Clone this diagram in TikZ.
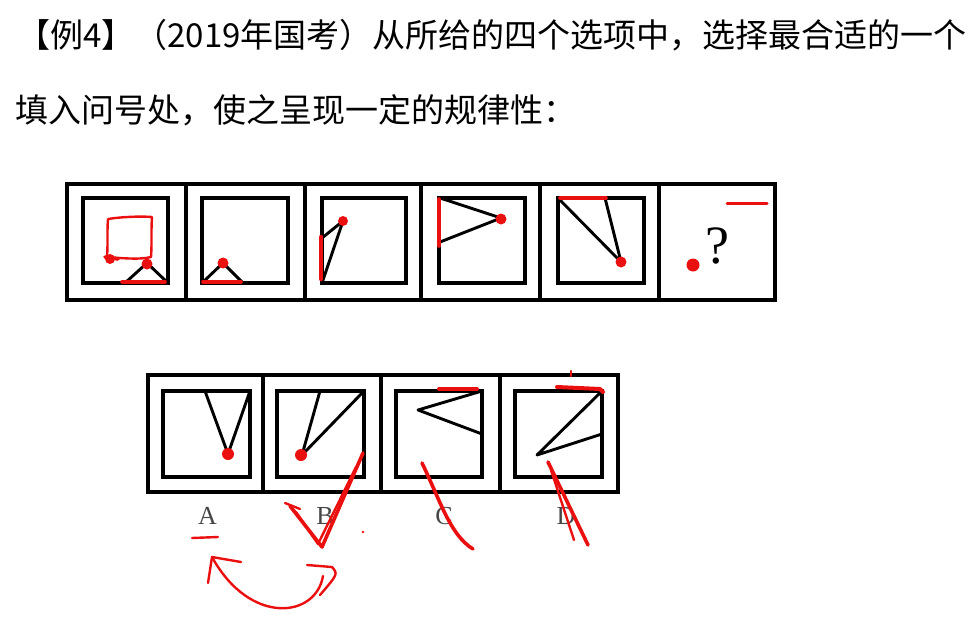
\documentclass[tikz,border=0pt]{standalone}
\usepackage{fontspec}
\newfontfamily\cjk{Noto Sans CJK SC}
\newfontfamily\tms{Liberation Serif}
\definecolor{mred}{RGB}{235,16,16}
\definecolor{lblgray}{RGB}{70,70,70}
\tikzset{
  frame/.style={line width=3.4pt, line join=miter},
  figline/.style={line width=2.9pt, line cap=round, line join=round},
  redmark/.style={mred, line width=3.6pt, line cap=round, line join=round},
  redthin/.style={mred, line width=2.4pt, line cap=round, line join=round},
  reddot/.style={fill=mred, draw=none},
  title/.style={anchor=west, inner sep=0pt, font=\cjk\fontsize{33}{38}\selectfont},
  optlabel/.style={inner sep=0pt, text=lblgray, font=\tms\fontsize{26}{30}\selectfont}
}
\begin{document}
\begin{tikzpicture}[x=1pt,y=-1pt]
\useasboundingbox (0,0) rectangle (971,626);
% title text
\node[title] (t1) at (17,35) {【例4】（2019年国考）从所给的四个选项中，选择最合适的一个};
\node[title] (t2) at (15,110) {填入问号处，使之呈现一定的规律性：};

% ---------- top row ----------
\draw[frame] (67,184) rectangle (775,300);
\foreach \x in {186,305,421,540,659} \draw[frame] (\x,184) -- (\x,300);
\draw[frame] (83,198) rectangle (168,283);
\draw[frame] (202,198) rectangle (288,283);
\draw[frame] (322,198) rectangle (406,283);
\draw[frame] (439,198) rectangle (525,283);
\draw[frame] (558,198) rectangle (644,283);

% cell 1
\draw[figline] (125,283) -- (147,263) -- (168,283);
\draw[redthin] (108,219) .. controls (120,217) and (140,216) .. (152,217)
  .. controls (151,230) and (152,245) .. (151,257)
  .. controls (140,260) and (120,258) .. (107,257)
  .. controls (108,245) and (107,230) .. (108,219);
\draw[redmark] (105,257) -- (118,259);
\fill[reddot] (110,259) circle (5);
\fill[reddot] (147,264) circle (5.5);
\draw[redmark] (122,282) -- (165,282);

% cell 2
\draw[figline] (202,283) -- (223,263) -- (243,283);
\draw[redmark] (203,282) -- (241,282);
\fill[reddot] (223,263) circle (5.5);

% cell 3
\draw[figline] (322,238) -- (343,221) -- (322,283);
\draw[mred, line width=4.5pt, line cap=round] (321,237) -- (321,279);
\fill[reddot] (343,221) circle (5);

% cell 4
\draw[figline] (440,198) -- (501,218) -- (440,242);
\draw[redmark] (439,199) -- (439,246);
\fill[reddot] (501,219) circle (5.5);

% cell 5
\draw[figline] (558,198) -- (621,262);
\draw[figline] (605,198) -- (621,262);
\draw[redmark] (560,198) -- (606,198);
\fill[reddot] (621,262) circle (5.5);

% cell 6
\node[inner sep=0pt, font=\tms\fontsize{54}{60}\selectfont] (q) at (717,246) {?};
\fill[reddot] (693,265) circle (6.5);
\draw[redthin, line width=3pt] (727,203) -- (767,203);

% ---------- bottom row ----------
\draw[frame] (148,375) rectangle (618,492);
\foreach \x in {263,381,500} \draw[frame] (\x,375) -- (\x,492);
\draw[frame] (163,391) rectangle (250,477);
\draw[frame] (277,391) rectangle (364,477);
\draw[frame] (396,391) rectangle (482,477);
\draw[frame] (515,391) rectangle (602,477);

% A
\draw[figline] (205,391) -- (228,454) -- (250,391);
\fill[reddot] (228,454) circle (6);
% B
\draw[figline] (320,391) -- (302,455) -- (364,391);
\fill[reddot] (301,455) circle (6);
% C
\draw[figline] (482,391) -- (418,410) -- (482,434);
\draw[redmark, line width=4pt] (439,389) -- (477,389);
% D
\draw[figline] (602,391) -- (537,455) -- (602,434);
\draw[redmark, line width=4pt] (557,387) -- (600,389) -- (603,392);
\draw[redthin] (571,371) -- (571,376);

% labels
\node[optlabel] (la) at (207.5,516) {A};
\node[optlabel] (lb) at (325,516) {B};
\node[optlabel] (lc) at (444,516) {C};
\node[optlabel] (ld) at (566,516) {D};

% red annotations
\draw[redmark] (290,506) -- (322,547) -- (363,453);
\draw[redthin] (296,512) -- (318,544) -- (356,467);
\draw[redthin] (285,503) -- (300,509);
\draw[redthin] (192,538) -- (218,537);
\fill[reddot] (363,532) circle (1.3);
\draw[redthin] (323,576) .. controls (316,618) and (250,626) .. (212,557);
\draw[redthin] (212,557) -- (241,562);
\draw[redthin] (212,557) -- (208,583);
\draw[redthin] (307,565) -- (332,567) .. controls (338,574) .. (320,595);
\draw[redmark] (422,463) .. controls (440,500) and (450,535) .. (473,549);
\draw[redmark] (548,462) -- (588,545);
\draw[redthin] (551,470) -- (574,540);
\end{tikzpicture}
\end{document}
